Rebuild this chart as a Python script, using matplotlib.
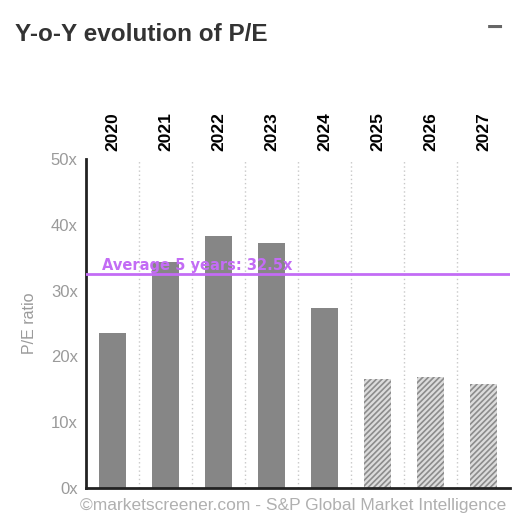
import numpy as np
import matplotlib.pyplot as plt

plt.rcParams['font.family'] = ['Liberation Sans', 'DejaVu Sans']
plt.rcParams['hatch.linewidth'] = 1.2

years = ["2020", "2021", "2022", "2023", "2024", "2025", "2026", "2027"]
pe_ratio = [23.6, 34.3, 38.3, 37.3, 27.4, 16.6, 16.8, 15.8]
is_estimate = [False, False, False, False, False, True, True, True]
avg_5y = 32.5
y_ticks = [0, 10, 20, 30, 40, 50]

fig = plt.figure(figsize=(5.32, 5.22), dpi=100)
ax = fig.add_axes([0.1617, 0.0651, 0.797, 0.6303])

x = np.arange(len(years))
for xi, val, est in zip(x, pe_ratio, is_estimate):
    if est:
        ax.bar(xi, val, width=0.5, color='#dcdcdc', edgecolor='#8c8c8c',
               hatch='//////', linewidth=0, zorder=2)
    else:
        ax.bar(xi, val, width=0.5, color='#868686', zorder=2)

# dotted separators between years
for b in np.arange(0.5, len(years) - 0.5, 1):
    ax.axvline(b, color='#c8c8c8', linestyle=(0, (1, 2)), linewidth=1, zorder=1)

# 5-year average
ax.axhline(avg_5y, color='#c36cf5', linewidth=2, zorder=3)
ax.text(-0.2, avg_5y + 0.6, "Average 5 years: 32.5x", color='#c36cf5',
        fontsize=10.5, fontweight='bold', family='DejaVu Sans', zorder=4)

ax.set_xlim(-0.5, 7.5)
ax.set_ylim(0, 50)
ax.set_yticks(y_ticks)
ax.set_yticklabels([f"{t}x" for t in y_ticks], color='#9a9a9a', fontsize=12)
ax.tick_params(axis='y', length=0, pad=6)

ax.xaxis.tick_top()
ax.set_xticks(x)
ax.set_xticklabels(years, rotation=90, fontweight='bold', fontsize=12.5, color='black')
ax.tick_params(axis='x', length=0, pad=6)

for s in ['top', 'right']:
    ax.spines[s].set_visible(False)
ax.spines['left'].set_linewidth(2)
ax.spines['bottom'].set_linewidth(2)
ax.spines['left'].set_color('#222222')
ax.spines['bottom'].set_color('#222222')

ax.set_ylabel("P/E ratio", color='#9a9a9a', fontsize=11.5, labelpad=10)

fig.text(0.028, 0.933, "Y-o-Y evolution of P/E", fontsize=17.5, fontweight='bold',
         color='#333333', va='center')
fig.text(0.915, 0.945, "\u2212", fontsize=20, fontweight='bold', color='#666666', va='center')
fig.text(0.15, 0.032, "\u00a9marketscreener.com - S&P Global Market Intelligence",
         fontsize=12.5, color='#b0b0b0', va='center')

fig.savefig("out.png", dpi=100)
